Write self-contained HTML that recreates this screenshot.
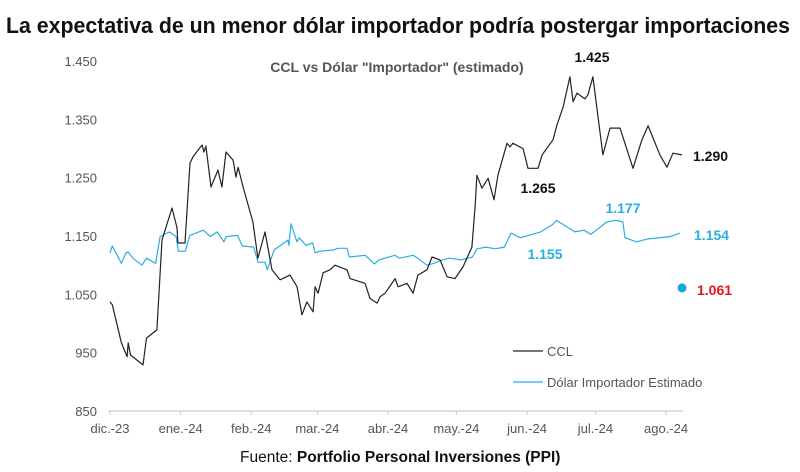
<!DOCTYPE html>
<html><head><meta charset="utf-8"><style>
html,body{margin:0;padding:0;background:#fff;}
svg{display:block;font-family:"Liberation Sans",sans-serif;}
</style></head><body>
<svg id="chart" width="800" height="472" viewBox="0 0 800 472" xmlns="http://www.w3.org/2000/svg">
<text x="6" y="33" font-size="22" font-weight="bold" fill="#111" textLength="784" lengthAdjust="spacingAndGlyphs">La expectativa de un menor dólar importador podría postergar importaciones</text>
<text x="397" y="72" font-size="14" font-weight="bold" fill="#555" text-anchor="middle">CCL vs Dólar "Importador" (estimado)</text>
<g id="yaxis"></g>
<g id="xaxis"></g>
<g id="series"></g>
<g id="annots"></g>
<g>
<line x1="513" y1="351" x2="543" y2="351" stroke="#222" stroke-width="1.2"/>
<text x="547" y="356" font-size="13" fill="#555">CCL</text>
<line x1="513" y1="382" x2="543" y2="382" stroke="#29aee6" stroke-width="1.2"/>
<text x="547" y="387" font-size="13" fill="#555">Dólar Importador Estimado</text>
</g>
<text x="240" y="462" font-size="15.5" fill="#111">Fuente: <tspan font-weight="bold">Portfolio Personal Inversiones (PPI)</tspan></text>
</svg>
<script>
const yTicks=[850,950,1050,1150,1250,1350,1450];
const yTickLabels=["850","950","1.050","1.150","1.250","1.350","1.450"];
const monthDays=[0,31,62,91,122,152,183,213,244];
const monthLabels=["dic.-23","ene.-24","feb.-24","mar.-24","abr.-24","may.-24","jun.-24","jul.-24","ago.-24"];
const cclDays=[0,1,5,7.5,8,9,14.5,16,20.6,22.8,27.2,29.4,29.8,32.9,35.1,36.4,40.4,41.2,42.1,44.3,47.4,49.1,50.9,54,55.3,56.2,58.4,62.7,64.9,68,71.1,74.6,79,82.1,84.2,86.4,89.1,90,91.3,93.5,96.5,98.7,104,105.3,111.9,114.1,117.2,118.5,120.7,125.1,126.4,130.3,133,135.1,139.1,141.3,144.8,147.9,151.4,154.9,158.8,160.2,161,163.2,165.9,168.5,170.2,174.2,175.5,176.8,181.2,183.4,187.8,189.6,194.4,196.1,198.8,201.8,203.2,204.9,208.4,209.7,211.9,216.3,219.4,223.8,229.5,233.4,236.1,241.3,244.4,247,251];
const cclValues=[1037,1032,967,943,967,946,929,975,989,1143,1198,1164,1138,1138,1275,1286,1306,1294,1304,1234,1263,1234,1294,1280,1251,1268,1234,1174,1112,1157,1092,1075,1083,1063,1015,1037,1020,1063,1052,1087,1092,1100,1092,1077,1069,1043,1035,1046,1052,1077,1063,1069,1052,1083,1092,1114,1109,1080,1077,1097,1131,1200,1254,1232,1249,1212,1254,1309,1303,1309,1300,1266,1266,1289,1315,1340,1371,1423,1380,1395,1385,1392,1423,1289,1335,1335,1266,1315,1339,1289,1268,1292,1289];
const impDays=[0,1,5,7,8,10,14,16,20,22,26,29,30,33,35,41,44,47,50,51,56,58,63,65,68,69,72,78,78.5,79.4,82,83,86,89,90,92,98,100,104,105,112,116,118,125,127,133,135,139,142,146,149,154,157,159,161,165,169,173,176,180,189,194,196,197,204,208,211,218,222,225,226,231,236,246,250];
const impValues=[1121,1133,1103,1121,1123,1112,1100,1112,1103,1149,1157,1149,1124,1124,1151,1160,1149,1157,1140,1149,1151,1133,1131,1105,1105,1092,1126,1143,1134,1171,1140,1147,1134,1138,1121,1124,1126,1129,1129,1114,1117,1102,1109,1117,1112,1117,1112,1100,1103,1109,1112,1109,1112,1114,1128,1131,1128,1131,1155,1147,1157,1169,1177,1174,1157,1160,1153,1174,1177,1174,1147,1140,1145,1149,1155];
const annotValues=["1.425","1.265","1.290","1.177","1.155","1.154","1.061"];
const pointValue=[1061];
const pointDay=[251];

const NS="http://www.w3.org/2000/svg";
function X(d){return 110+d*2.279;}
function Y(v){return 411-(v-850)*0.58333;}
function mk(tag,attrs,parent){const e=document.createElementNS(NS,tag);for(const k in attrs)e.setAttribute(k,attrs[k]);parent.appendChild(e);return e;}
const ya=document.getElementById('yaxis'),xa=document.getElementById('xaxis'),se=document.getElementById('series'),an=document.getElementById('annots');
yTicks.forEach((t,i)=>{const e=mk('text',{x:97,y:Y(t)+5,'font-size':13,fill:'#555','text-anchor':'end'},ya);e.textContent=yTickLabels[i];

});
const ax=mk('line',{x1:108,y1:411,x2:683,y2:411,stroke:'#ccc','stroke-width':1.2},xa);


monthDays.forEach((d,i)=>{const tk=mk('line',{x1:X(d),y1:411,x2:X(d),y2:415,stroke:'#ccc'},xa);


const e=mk('text',{x:X(d),y:433,'font-size':13,fill:'#555','text-anchor':'middle'},xa);e.textContent=monthLabels[i];

});
function path(ds,vs){return ds.map((d,i)=>(i?'L':'M')+X(d).toFixed(1)+','+Y(vs[i]).toFixed(1)).join('');}
const p2=mk('path',{d:path(impDays,impValues),fill:'none',stroke:'#29aee6','stroke-width':1.2,'stroke-linejoin':'round'},se);


const p1=mk('path',{d:path(cclDays,cclValues),fill:'none',stroke:'#222','stroke-width':1.2,'stroke-linejoin':'round'},se);


const dot=mk('circle',{cx:X(pointDay[0]),cy:Y(pointValue[0]),r:4.5,fill:'#1aa3e8'},se);


const ann=[[592,62,'#111','middle'],[538,193,'#111','middle'],[693,161,'#111','start'],[623,213,'#29aee6','middle'],[545,259,'#29aee6','middle'],[694,240,'#29aee6','start'],[697,295,'#e3141b','start']];
ann.forEach((a,i)=>{const e=mk('text',{x:a[0],y:a[1],'font-size':14,'font-weight':'bold',fill:a[2],'text-anchor':a[3]},an);
e.textContent=annotValues[i];

});
</script>
</body></html>
